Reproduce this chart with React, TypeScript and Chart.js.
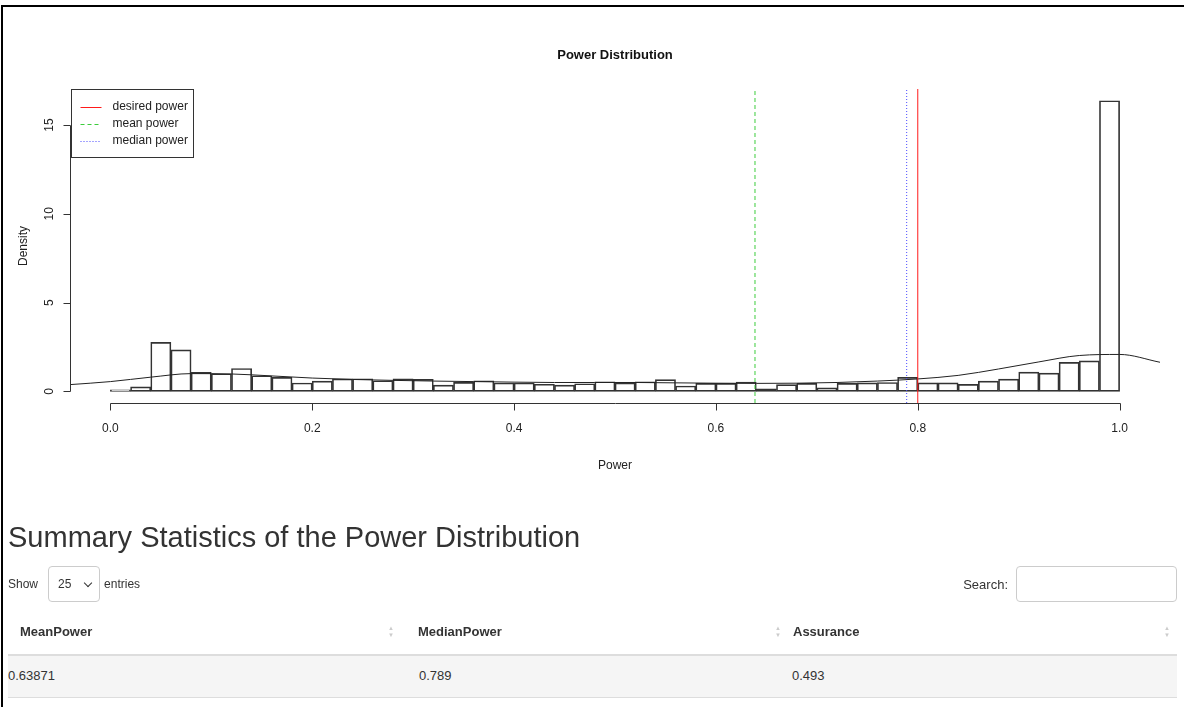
import React, { useEffect, useRef } from "react";
import { Chart, registerables } from "chart.js";

Chart.register(...registerables);

// ---------- data ----------
const binCenters = [
  0.01, 0.03, 0.05, 0.07, 0.09, 0.11, 0.13, 0.15, 0.17, 0.19,
  0.21, 0.23, 0.25, 0.27, 0.29, 0.31, 0.33, 0.35, 0.37, 0.39,
  0.41, 0.43, 0.45, 0.47, 0.49, 0.51, 0.53, 0.55, 0.57, 0.59,
  0.61, 0.63, 0.65, 0.67, 0.69, 0.71, 0.73, 0.75, 0.77, 0.79,
  0.81, 0.83, 0.85, 0.87, 0.89, 0.91, 0.93, 0.95, 0.97, 0.99,
];
const binDensity = [
  0.08, 0.25, 2.76, 2.34, 1.07, 0.99, 1.29, 0.88, 0.79, 0.47,
  0.58, 0.70, 0.71, 0.60, 0.70, 0.68, 0.35, 0.51, 0.60, 0.47,
  0.47, 0.40, 0.35, 0.43, 0.54, 0.47, 0.54, 0.66, 0.30, 0.45,
  0.45, 0.53, 0.15, 0.38, 0.45, 0.20, 0.45, 0.48, 0.50, 0.79,
  0.48, 0.48, 0.39, 0.58, 0.69, 1.08, 1.03, 1.63, 1.72, 16.37,
];
const kdeX = [
  -0.04, 0.0, 0.04, 0.08, 0.12, 0.16, 0.2, 0.24, 0.28, 0.32, 0.36, 0.4, 0.44, 0.48,
  0.52, 0.56, 0.6, 0.64, 0.68, 0.72, 0.76, 0.8, 0.84, 0.88, 0.92, 0.96, 1.0, 1.04,
];
const kdeY = [
  0.38, 0.55, 0.8, 1.0, 0.98, 0.87, 0.75, 0.67, 0.62, 0.58, 0.55, 0.52, 0.5, 0.5,
  0.5, 0.48, 0.46, 0.45, 0.46, 0.5, 0.58, 0.7, 0.9, 1.26, 1.66, 2.02, 2.08, 1.64,
];
const desiredPower = 0.8;
const meanPower = 0.63871;
const medianPower = 0.789;
const assurance = 0.493;

const xTicks = [0, 0.2, 0.4, 0.6, 0.8, 1.0];
const xTickLabels = ["0.0", "0.2", "0.4", "0.6", "0.8", "1.0"];
const yTicks = [0, 5, 10, 15];
const yTickLabels = ["0", "5", "10", "15"];
const legendLabels = ["desired power", "mean power", "median power"];

const tableHeaders = ["MeanPower", "MedianPower", "Assurance"];
const tableRow = [String(meanPower), String(medianPower), String(assurance)];

const X_MIN = -0.04;
const X_MAX = 1.04;
const Y_MIN = -0.655;
const Y_MAX = 17.03;

const FONT = "'Liberation Sans', Arial, Helvetica, sans-serif";
const RED = "#ff1a1a";
const GREEN = "#3ccc3c";
const BLUE = "#4a4aff";

const overlay = {
  id: "rOverlay",
  afterDraw(chart: any) {
    const { ctx, chartArea } = chart;
    const xs = chart.scales.x;
    const ys = chart.scales.y;
    ctx.save();
    ctx.strokeStyle = "#333";
    ctx.fillStyle = "#222";
    ctx.lineWidth = 1;
    ctx.setLineDash([]);

    // x axis
    const axY = Math.round(chartArea.bottom) + 0.5;
    ctx.beginPath();
    ctx.moveTo(Math.round(xs.getPixelForValue(xTicks[0])) + 0.5, axY);
    ctx.lineTo(Math.round(xs.getPixelForValue(xTicks[xTicks.length - 1])) + 0.5, axY);
    xTicks.forEach((t) => {
      const px = Math.round(xs.getPixelForValue(t)) + 0.5;
      ctx.moveTo(px, axY);
      ctx.lineTo(px, axY + 7);
    });
    ctx.stroke();
    ctx.font = `12px ${FONT}`;
    ctx.textAlign = "center";
    ctx.textBaseline = "middle";
    xTicks.forEach((t, i) => {
      ctx.fillText(xTickLabels[i], xs.getPixelForValue(t), axY + 25);
    });

    // y axis
    const axX = Math.round(chartArea.left) + 0.5;
    ctx.beginPath();
    ctx.moveTo(axX, Math.round(ys.getPixelForValue(yTicks[0])) + 0.5);
    ctx.lineTo(axX, Math.round(ys.getPixelForValue(yTicks[yTicks.length - 1])) + 0.5);
    yTicks.forEach((t) => {
      const py = Math.round(ys.getPixelForValue(t)) + 0.5;
      ctx.moveTo(axX, py);
      ctx.lineTo(axX - 7, py);
    });
    ctx.stroke();
    yTicks.forEach((t, i) => {
      ctx.save();
      ctx.translate(axX - 21, ys.getPixelForValue(t));
      ctx.rotate(-Math.PI / 2);
      ctx.fillText(yTickLabels[i], 0, 0);
      ctx.restore();
    });

    // axis titles
    const cx = (chartArea.left + chartArea.right) / 2;
    const cy = (chartArea.top + chartArea.bottom) / 2;
    ctx.fillText("Power", cx, axY + 62);
    ctx.save();
    ctx.translate(24, cy);
    ctx.rotate(-Math.PI / 2);
    ctx.fillText("Density", 0, 0);
    ctx.restore();

    // main title
    ctx.font = `bold 13px ${FONT}`;
    ctx.fillStyle = "#111";
    ctx.fillText("Power Distribution", cx, 55);

    // legend
    const lx = Math.round(chartArea.left) + 1.5;
    const ly = Math.round(chartArea.top) + 0.5;
    ctx.strokeStyle = "#333";
    ctx.strokeRect(lx, ly, 122, 68);
    const cols = [RED, GREEN, BLUE];
    const dashes = [[], [4, 3], [1, 2]];
    ctx.font = `12px ${FONT}`;
    ctx.textAlign = "left";
    legendLabels.forEach((lab, i) => {
      const yy = ly + 17 + i * 17;
      const ry = Math.round(yy);
      if (dashes[i].length === 0) {
        ctx.fillStyle = cols[i];
        ctx.fillRect(lx + 9, ry, 21, 1);
      } else {
        ctx.save();
        ctx.strokeStyle = cols[i];
        ctx.lineWidth = 1;
        ctx.setLineDash(dashes[i]);
        ctx.beginPath();
        ctx.moveTo(lx + 9, ry + 0.5);
        ctx.lineTo(lx + 30, ry + 0.5);
        ctx.stroke();
        ctx.restore();
      }
      ctx.fillStyle = "#222";
      ctx.fillText(lab, lx + 41, yy);
    });
    ctx.restore();
  },
};

function vline(value: number, color: string, dash: number[]) {
  return {
    type: "line" as const,
    data: [
      { x: value, y: Y_MIN },
      { x: value, y: Y_MAX },
    ],
    borderColor: color,
    borderWidth: 1,
    borderDash: dash,
    pointRadius: 0,
    fill: false,
  };
}

export default function App() {
  const ref = useRef<HTMLCanvasElement>(null);

  useEffect(() => {
    if (!ref.current) return;
    const chart = new Chart(ref.current, {
      type: "bar",
      data: {
        datasets: [
          vline(desiredPower, RED, []),
          vline(meanPower, GREEN, [4, 3]),
          vline(medianPower, BLUE, [1, 2]),
          {
            type: "line",
            data: kdeX.map((x, i) => ({ x, y: kdeY[i] })),
            borderColor: "#222",
            borderWidth: 1,
            pointRadius: 0,
            tension: 0.4,
            cubicInterpolationMode: "monotone",
            fill: false,
          } as any,
          {
            type: "bar",
            data: binCenters.map((x, i) => ({ x, y: binDensity[i] })),
            backgroundColor: "rgba(255,255,255,0)",
            borderColor: "#333",
            borderWidth: 1,
            borderSkipped: false,
            barPercentage: 1,
            categoryPercentage: 1,
          } as any,
        ],
      },
      options: {
        animation: false,
        responsive: false,
        maintainAspectRatio: false,
        layout: { padding: { left: 0, right: 24, top: 89, bottom: 0 } },
        plugins: {
          legend: { display: false },
          title: { display: false },
          tooltip: { enabled: false },
        },
        scales: {
          x: {
            type: "linear",
            min: X_MIN,
            max: X_MAX,
            offset: false,
            grid: { display: false },
            border: { display: false },
            ticks: { display: false },
            afterFit: (s: any) => {
              s.height = 97;
            },
          },
          y: {
            type: "linear",
            min: Y_MIN,
            max: Y_MAX,
            grid: { display: false },
            border: { display: false },
            ticks: { display: false },
            afterFit: (s: any) => {
              s.width = 70;
            },
          },
        },
      } as any,
      plugins: [overlay],
    });
    return () => chart.destroy();
  }, []);

  const headerLeft = [20, 418, 793];
  const cellLeft = [8, 419, 792];
  const arrowX = [391, 778, 1167];

  return (
    <div
      style={{
        position: "relative",
        width: 1184,
        height: 707,
        overflow: "hidden",
        background: "#fff",
        fontFamily: FONT,
        color: "#333",
      }}
    >
      <style>{"body{margin:0}"}</style>
      <canvas
        ref={ref}
        width={1184}
        height={500}
        style={{ position: "absolute", left: 0, top: 0, width: 1184, height: 500 }}
      />
      <div
        style={{
          position: "absolute",
          left: 1,
          top: 5,
          width: 1400,
          height: 900,
          borderTop: "2px solid #000",
          borderLeft: "2px solid #000",
          pointerEvents: "none",
        }}
      />
      <div
        style={{
          position: "absolute",
          left: 8,
          top: 520,
          fontSize: 29,
          lineHeight: "34px",
          whiteSpace: "nowrap",
        }}
      >
        Summary Statistics of the Power Distribution
      </div>

      <div
        style={{
          position: "absolute",
          left: 8,
          top: 566,
          height: 36,
          display: "flex",
          alignItems: "center",
          fontSize: 12,
        }}
      >
        <span>Show</span>
        <div
          style={{
            marginLeft: 10,
            width: 52,
            height: 36,
            boxSizing: "border-box",
            border: "1px solid #ccc",
            borderRadius: 4,
            display: "flex",
            alignItems: "center",
            paddingLeft: 9,
            position: "relative",
          }}
        >
          <span>25</span>
          <span
            style={{
              position: "absolute",
              left: 36,
              top: 13,
              width: 5,
              height: 5,
              borderRight: "1.5px solid #333",
              borderBottom: "1.5px solid #333",
              transform: "rotate(45deg)",
            }}
          />
        </div>
        <span style={{ marginLeft: 4 }}>entries</span>
      </div>

      <div
        style={{
          position: "absolute",
          right: 1184 - 1008,
          top: 566,
          height: 36,
          display: "flex",
          alignItems: "center",
          fontSize: 13,
        }}
      >
        Search:
      </div>
      <div
        style={{
          position: "absolute",
          left: 1016,
          top: 566,
          width: 161,
          height: 36,
          boxSizing: "border-box",
          border: "1px solid #ccc",
          borderRadius: 4,
        }}
      />

      {tableHeaders.map((h, i) => (
        <div
          key={h}
          style={{
            position: "absolute",
            left: headerLeft[i],
            top: 624,
            fontSize: 13,
            fontWeight: "bold",
            lineHeight: "16px",
          }}
        >
          {h}
        </div>
      ))}
      {arrowX.map((ax, i) => (
        <div
          key={i}
          style={{
            position: "absolute",
            left: ax - 4,
            top: 625,
            width: 8,
            fontSize: 6,
            lineHeight: "7px",
            color: "#ccc",
            textAlign: "center",
          }}
        >
          ▲<br />▼
        </div>
      ))}
      <div
        style={{
          position: "absolute",
          left: 8,
          top: 654,
          width: 1169,
          height: 2,
          background: "#ddd",
        }}
      />
      <div
        style={{
          position: "absolute",
          left: 8,
          top: 656,
          width: 1169,
          height: 41,
          background: "#f5f5f5",
          borderBottom: "1px solid #ddd",
        }}
      />
      {tableRow.map((v, i) => (
        <div
          key={i}
          style={{
            position: "absolute",
            left: cellLeft[i],
            top: 668,
            fontSize: 13,
            lineHeight: "16px",
          }}
        >
          {v}
        </div>
      ))}
    </div>
  );
}
